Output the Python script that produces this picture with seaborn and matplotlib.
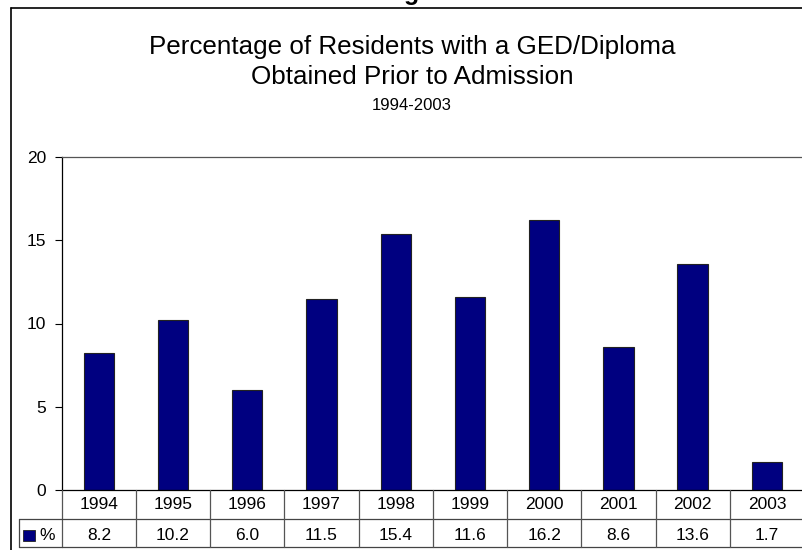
import matplotlib
matplotlib.use("Agg")
import matplotlib.pyplot as plt
import seaborn as sns
import pandas as pd
from matplotlib.lines import Line2D
from matplotlib.patches import Rectangle

years = ["1994", "1995", "1996", "1997", "1998", "1999", "2000", "2001", "2002", "2003"]
values = [8.2, 10.2, 6.0, 11.5, 15.4, 11.6, 16.2, 8.6, 13.6, 1.7]
series_name = "%"
title_lines = ["Percentage of Residents with a GED/Diploma", "Obtained Prior to Admission"]
subtitle = "1994-2003"
yticks = [0, 5, 10, 15, 20]

sns.set_style("white")
plt.rcParams["font.family"] = ["Liberation Sans", "DejaVu Sans"]
plt.rcParams["text.color"] = "black"
plt.rcParams["ytick.color"] = "black"
plt.rcParams["ytick.labelcolor"] = "black"

W, H = 803, 550
fig = plt.figure(figsize=(W / 100, H / 100), dpi=100)

def fx(px):
    return px / W

def fy(py):
    return 1 - py / H

FS = 12.5

# plot area
x0, x1 = 61.7, 804.0
y_top, y_bot = 157, 490
ax = fig.add_axes([fx(x0), fy(y_bot), fx(x1) - fx(x0), fy(y_top) - fy(y_bot)])

df = pd.DataFrame({"year": years, "value": values})
sns.barplot(data=df, x="year", y="value", color="#000080", width=0.41,
            edgecolor="#222222", linewidth=0.8, saturation=1, ax=ax)
ax.set_xlim(-0.5, len(years) - 0.5)
ax.set_ylim(0, 20)
ax.set_yticks(yticks)
ax.set_yticklabels([str(t) for t in yticks], fontsize=FS)
ax.set_xticks([])
ax.set_xlabel("")
ax.set_ylabel("")
ax.tick_params(axis="y", direction="out", length=5, width=0.8, pad=6, left=True,
               colors="black", labelcolor="black")
for side in ["left", "top"]:
    ax.spines[side].set_visible(True)
    ax.spines[side].set_color("black")
    ax.spines[side].set_linewidth(0.9)
ax.spines["top"].set_color("#555555")
ax.spines["right"].set_visible(False)
ax.spines["bottom"].set_visible(False)

# data table below the plot
t_top, t_mid, t_bot = 490, 519, 547
tax = fig.add_axes([fx(x0), fy(t_bot), fx(x1) - fx(x0), fy(t_top) - fy(t_bot)])
tax.set_xlim(-0.5, len(years) - 0.5)
tax.set_ylim(0, 2)
tax.axis("off")
lw = 0.9
tax.plot([-0.5, len(years) - 0.5], [2, 2], color="black", lw=lw, clip_on=False)
tax.plot([-0.5, len(years) - 0.5], [1, 1], color="#444444", lw=lw, clip_on=False)
tax.plot([-0.5, len(years) - 0.5], [0, 0], color="#444444", lw=lw, clip_on=False)
for i in range(len(years) + 1):
    tax.plot([i - 0.5, i - 0.5], [0, 2], color="#555555", lw=lw, clip_on=False)
for i, (yr, v) in enumerate(zip(years, values)):
    tax.text(i, 1.48, yr, ha="center", va="center", fontsize=FS, color="black")
    tax.text(i, 0.42, f"{v:.1f}", ha="center", va="center", fontsize=FS, color="black")

# legend cell at left of the data row
fig.add_artist(Line2D([fx(19), fx(x0)], [fy(t_mid), fy(t_mid)], color="#444444", lw=lw))
fig.add_artist(Line2D([fx(19), fx(x0)], [fy(t_bot), fy(t_bot)], color="#444444", lw=lw))
fig.add_artist(Line2D([fx(19), fx(19)], [fy(t_mid), fy(t_bot)], color="#444444", lw=lw))
fig.add_artist(Rectangle((fx(23.5), fy(541)), fx(35) - fx(23.5), fy(530) - fy(541),
                         facecolor="#000080", edgecolor="#222222", lw=0.6))
fig.text(fx(39), fy(535), series_name, ha="left", va="center", fontsize=FS, color="black")

# outer frame
fig.add_artist(Line2D([fx(11), fx(11)], [fy(8), 0], color="black", lw=1.2))
fig.add_artist(Line2D([fx(11), 1], [fy(8), fy(8)], color="black", lw=1.2))

# titles
fig.text(fx(412), fy(47), title_lines[0], ha="center", va="center", fontsize=18.7, color="black")
fig.text(fx(412), fy(77), title_lines[1], ha="center", va="center", fontsize=18.7, color="black")
fig.text(fx(412), fy(105), subtitle, ha="center", va="center", fontsize=12, color="black")

# clipped bold heading above the frame (only the descender is visible in the reference)
fig.text(fx(412), fy(0), "g", ha="center", va="baseline", fontsize=18, fontweight="bold", color="black")

fig.savefig("out.png", dpi=100)
